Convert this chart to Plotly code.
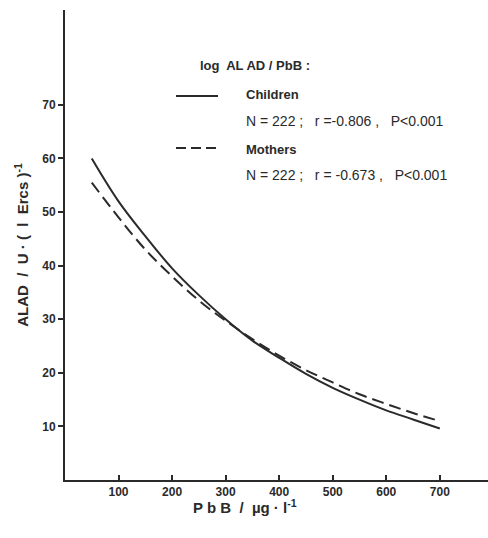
import plotly.graph_objects as go

pbb = [50, 100, 150, 200, 250, 300, 350, 400, 450, 500, 550, 600, 650, 700]
children = [60, 52, 45.5, 39.5, 34.5, 30, 26, 22.8, 19.8, 17.2, 15, 13, 11.3, 9.6]
mothers = [55.5, 49, 43, 38, 33.5, 29.7, 26.3, 23.2, 20.5, 18.2, 16, 14.2, 12.5, 11]

x_ticks = [100, 200, 300, 400, 500, 600, 700]
y_ticks = [10, 20, 30, 40, 50, 60, 70]

FONT = "Liberation Sans"
INK = "#2a2a2a"

fig = go.Figure()
fig.add_trace(go.Scatter(x=pbb, y=children, mode="lines", name="Children",
                         line=dict(color=INK, width=2, shape="spline"), showlegend=False))
fig.add_trace(go.Scatter(x=pbb, y=mothers, mode="lines", name="Mothers",
                         line=dict(color=INK, width=2, shape="spline", dash="12px,6px"), showlegend=False))

fig.update_layout(
    width=488, height=538,
    margin=dict(l=65, r=0, t=10, b=58),
    paper_bgcolor="white", plot_bgcolor="white",
    font=dict(family=FONT, color=INK, size=11),
    xaxis=dict(range=[0, 790], tickvals=x_ticks, ticks="inside", ticklen=5, tickwidth=1.5,
               tickcolor=INK, showline=True, linecolor=INK, linewidth=2, showgrid=False,
               zeroline=False, tickfont=dict(size=12, family=FONT, weight="bold")),
    yaxis=dict(range=[0, 87.7], tickvals=y_ticks, ticks="outside", ticklen=5, tickwidth=1.5,
               tickcolor=INK, showline=True, linecolor=INK, linewidth=2, showgrid=False,
               zeroline=False, tickfont=dict(size=12, family=FONT, weight="bold"),
               title=dict(text="ALAD  /  U · (  l  Ercs )<sup>-1</sup>",
                          font=dict(size=15, weight="bold"), standoff=10)),
)

def px(x):
    return (x - 65) / (488 - 65)

def py(y):
    return (538 - 58 - y) / (538 - 58 - 10)

# x-axis title placed where the reference shows it
fig.add_annotation(x=px(245), y=py(506), xref="paper", yref="paper", xanchor="center", yanchor="middle",
                   text="P b B  /  µg · l<sup>-1</sup>", showarrow=False, font=dict(size=15, weight="bold"))

# legend block
fig.add_annotation(x=px(198), y=py(66), xref="paper", yref="paper", xanchor="left", yanchor="middle",
                   text="log  AL AD / PbB :", showarrow=False, font=dict(size=13, weight="bold"))
fig.add_shape(type="line", xref="paper", yref="paper", x0=px(176), x1=px(218), y0=py(96), y1=py(96),
              line=dict(color=INK, width=2))
fig.add_annotation(x=px(244), y=py(95), xref="paper", yref="paper", xanchor="left", yanchor="middle",
                   text="Children", showarrow=False, font=dict(size=13, weight="bold"))
fig.add_annotation(x=px(244), y=py(121), xref="paper", yref="paper", xanchor="left", yanchor="middle",
                   text="N = 222 ;   r =-0.806 ,   P<0.001", showarrow=False, font=dict(size=14))
fig.add_shape(type="line", xref="paper", yref="paper", x0=px(176), x1=px(218), y0=py(148), y1=py(148),
              line=dict(color=INK, width=2, dash="10px,5px"))
fig.add_annotation(x=px(244), y=py(149), xref="paper", yref="paper", xanchor="left", yanchor="middle",
                   text="Mothers", showarrow=False, font=dict(size=13, weight="bold"))
fig.add_annotation(x=px(244), y=py(175), xref="paper", yref="paper", xanchor="left", yanchor="middle",
                   text="N = 222 ;   r = -0.673 ,   P<0.001", showarrow=False, font=dict(size=14))

fig.write_html("out.html")
